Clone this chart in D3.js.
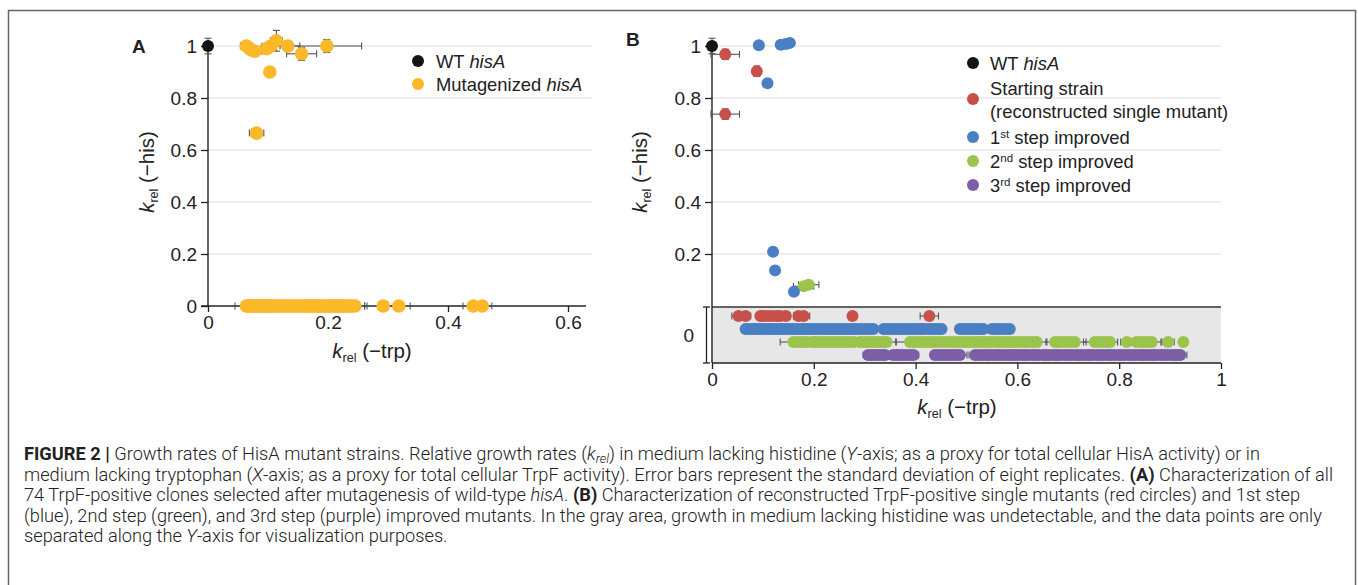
<!DOCTYPE html>
<html>
<head>
<meta charset="utf-8">
<script src="https://cdn.jsdelivr.net/npm/d3@7"></script>
<style>
  body { margin: 0; background: #fff; }
  svg text { font-family: "Liberation Sans", Arial, Helvetica, sans-serif; fill: #222; }
  svg text.cap { font-family: Roboto, "Liberation Sans", Arial, sans-serif; font-weight: 300; }
</style>
</head>
<body>
<div id="chart"></div>
<script>
// ---- data ----
// Panel A: points with detectable growth without histidine [x, y, xErr, yErr]
var aWT = [[0, 1.0, 0.004, 0.03]];
var aMutTop = [
    [0.064, 1.0, 0.010, 0.012], [0.072, 0.985, 0.010, 0.015], [0.078, 0.98, 0.012, 0.02],
    [0.098, 0.99, 0.010, 0.015], [0.105, 1.0, 0.015, 0.02], [0.114, 1.02, 0.010, 0.04],
    [0.133, 1.0, 0.020, 0.02], [0.156, 0.97, 0.025, 0.025], [0.198, 1.0, 0.058, 0.025],
    [0.103, 0.90, 0.004, 0.015], [0.081, 0.665, 0.012, 0.01]
];
// Panel A: clones at k_rel(-his) = 0, [x, xErr]
var aMutZero = [
    [0.064, 0.019], [0.066, 0.008], [0.069, 0.008], [0.073, 0.007], [0.074, 0.008], [0.078, 0.009],
    [0.081, 0.008], [0.082, 0.007], [0.086, 0.008], [0.089, 0.009], [0.090, 0.008], [0.095, 0.007],
    [0.097, 0.008], [0.099, 0.009], [0.103, 0.008], [0.104, 0.010], [0.108, 0.008], [0.112, 0.009],
    [0.113, 0.008], [0.117, 0.010], [0.121, 0.009], [0.123, 0.008], [0.128, 0.010], [0.130, 0.009],
    [0.134, 0.008], [0.139, 0.010], [0.141, 0.009], [0.146, 0.010], [0.149, 0.008], [0.154, 0.010],
    [0.156, 0.009], [0.161, 0.010], [0.162, 0.008], [0.167, 0.010], [0.169, 0.009], [0.171, 0.010],
    [0.176, 0.009], [0.178, 0.010], [0.182, 0.008], [0.185, 0.010], [0.186, 0.009], [0.191, 0.010],
    [0.194, 0.009], [0.195, 0.010], [0.200, 0.008], [0.203, 0.010], [0.204, 0.009], [0.209, 0.010],
    [0.211, 0.009], [0.215, 0.010], [0.218, 0.009], [0.219, 0.010], [0.224, 0.009], [0.227, 0.010],
    [0.228, 0.009], [0.233, 0.012], [0.237, 0.024], [0.239, 0.022], [0.245, 0.020],
    [0.292, 0.008], [0.318, 0.019], [0.442, 0.017], [0.457, 0.016]
];

// Panel B: points above the gray area [x, y, xErr, yErr]
var bWT = [[0, 1.0, 0.004, 0.03]];
var bStart = [[0.026, 0.968, 0.028, 0.02], [0.088, 0.903, 0.006, 0.02], [0.026, 0.738, 0.028, 0.02]];
var bStep1 = [
    [0.092, 1.003, 0.005, 0.008], [0.135, 1.005, 0.006, 0.008], [0.145, 1.008, 0.006, 0.008],
    [0.153, 1.012, 0.006, 0.008], [0.109, 0.857, 0.005, 0.008], [0.120, 0.209, 0.005, 0.008],
    [0.124, 0.137, 0.005, 0.008], [0.161, 0.055, 0.005, 0.008]
];
var bStep2 = [[0.180, 0.076, 0.020, 0.006], [0.190, 0.082, 0.020, 0.006]];
var bStep3 = [];

// Panel B: gray area rows (no growth without histidine), x or [x, xErr]
var zStart = [[0.052, 0.013], [0.066, 0.010], 0.095, 0.102, 0.110, 0.118, 0.127, 0.134, [0.145, 0.009],
    [0.170, 0.010], [0.180, 0.012], 0.276, [0.427, 0.018]];
var zStep1 = [0.066, 0.071, 0.078, 0.083, 0.088, 0.095, 0.099, 0.106, 0.111, 0.117, 0.122, 0.128,
    0.135, 0.139, 0.146, 0.151, 0.157, 0.163, 0.168, 0.175, 0.180, 0.186, 0.191, 0.198, 0.204, 0.209,
    0.216, [0.221, 0.010], 0.227, 0.232, 0.238, 0.245, 0.250, 0.257, 0.262, 0.268, 0.275, 0.281, 0.286,
    0.293, 0.299, 0.305, 0.311, 0.317, 0.337, 0.343, 0.350, 0.355, 0.362, 0.368, 0.373, 0.380, 0.386,
    0.392, 0.399, 0.405, 0.411, [0.417, 0.009], 0.425, 0.431, 0.438, 0.444, 0.451,
    0.487, 0.493, 0.500, 0.507, 0.514, 0.520, 0.527, 0.533, 0.550, 0.557, 0.563, 0.570, 0.578, 0.585];
var zStep2 = [[0.160, 0.026], 0.168, 0.174, 0.181, 0.186, 0.196, 0.203, 0.209, 0.215, 0.222, 0.229,
    0.236, 0.242, 0.249, 0.256, 0.263, 0.270, [0.278, 0.012], 0.290, 0.297, 0.304, 0.311, 0.318, 0.325,
    0.331, 0.337, [0.343, 0.018], [0.389, 0.027], 0.396, 0.402, 0.410, 0.417, 0.424, 0.431, 0.438, 0.446,
    0.453, 0.461, 0.470, 0.478, 0.485, 0.492, 0.499, 0.506, 0.514, 0.521, 0.528, 0.535, 0.542, 0.549,
    0.557, 0.564, 0.571, 0.578, 0.586, 0.593, 0.600, 0.607, 0.615, 0.622, 0.630, [0.638, 0.020],
    [0.674, 0.018], 0.681, 0.689, 0.697, 0.705, [0.713, 0.022], [0.752, 0.022], 0.760, 0.767, 0.775,
    [0.782, 0.015], [0.815, 0.012], [0.834, 0.010], 0.842, 0.849, 0.857, [0.864, 0.018], [0.896, 0.012], 0.926];
var zStep3 = [[0.307, 0.010], 0.314, 0.321, 0.327, 0.334, 0.340, 0.356, 0.363, 0.369, 0.376, 0.383, 0.390,
    [0.396, 0.010], [0.438, 0.008], 0.445, 0.452, 0.459, 0.466, 0.473, 0.480, [0.487, 0.014],
    [0.517, 0.012], 0.524, 0.531, 0.539, 0.545, 0.552, 0.560, 0.566, 0.573, 0.581, 0.587, 0.594, 0.601,
    0.609, 0.615, 0.622, 0.630, 0.636, 0.643, 0.651, 0.657, 0.664, 0.672, 0.678, 0.685, 0.693, 0.699,
    0.706, 0.714, 0.720, 0.727, 0.735, 0.741, 0.748, 0.756, 0.762, 0.769, 0.777, 0.783, 0.790, 0.798,
    0.804, 0.811, 0.819, 0.825, 0.832, 0.840, 0.846, 0.853, 0.861, 0.867, 0.874, 0.882, 0.888, 0.895,
    0.903, 0.909, 0.915, [0.920, 0.013]];

var yTicks = [0.2, 0.4, 0.6, 0.8, 1];
var xTicksA = [0, 0.2, 0.4, 0.6];
var xTicksB = [0, 0.2, 0.4, 0.6, 0.8, 1];
var zeroRows = ["start", "step1", "step2", "step3"];

var colors = {
    wt: "#141414",
    mut: "#fbb929",
    start: "#c8504b",
    step1: "#4a7fc3",
    step2: "#9bc44d",
    step3: "#7c5ea6"
};

// ---- svg ----
var svgWidth = 1358;
var svgHeight = 585;
var tickFont = "19px";
var legFont = "18.4px";

var svg = d3.select("#chart")
    .append("svg")
    .attr("width", svgWidth)
    .attr("height", svgHeight);

svg.append("rect")
    .attr("width", svgWidth).attr("height", svgHeight).attr("fill", "#fff");

// figure frame
svg.append("rect")
    .attr("x", 8.5).attr("y", 10.5)
    .attr("width", 1347).attr("height", 620)
    .attr("fill", "none").attr("stroke", "#666").attr("stroke-width", 1.5);

// scales
var xA = d3.scaleLinear().domain([0, 0.6]).range([208, 568]);
var yA = d3.scaleLinear().domain([0, 1]).range([306, 46]);
var xB = d3.scaleLinear().domain([0, 1]).range([712, 1221]);
var yB = d3.scaleLinear().domain([0, 1]).range([306, 46]);
var yZero = d3.scalePoint().domain(zeroRows).range([316, 355]);

var errColor = "#555";

// error bars: horizontal + vertical with caps
function drawErr(g, x, y, xe, ye, xs, ys) {
    var cap = 3.5;
    if (xe > 0) {
        var x0 = xs(x - xe), x1 = xs(x + xe), cy = ys(y);
        g.append("line").attr("x1", x0).attr("x2", x1).attr("y1", cy).attr("y2", cy);
        g.append("line").attr("x1", x0).attr("x2", x0).attr("y1", cy - cap).attr("y2", cy + cap);
        g.append("line").attr("x1", x1).attr("x2", x1).attr("y1", cy - cap).attr("y2", cy + cap);
    }
    if (ye > 0) {
        var y0 = ys(y - ye), y1 = ys(y + ye), cx = xs(x);
        g.append("line").attr("x1", cx).attr("x2", cx).attr("y1", y0).attr("y2", y1);
        g.append("line").attr("x1", cx - cap).attr("x2", cx + cap).attr("y1", y0).attr("y2", y0);
        g.append("line").attr("x1", cx - cap).attr("x2", cx + cap).attr("y1", y1).attr("y2", y1);
    }
}

function gridlines(xs, ys, x2) {
    svg.append("g").selectAll("line")
        .data(yTicks).enter().append("line")
        .attr("x1", xs(0)).attr("x2", x2)
        .attr("y1", d => ys(d)).attr("y2", d => ys(d))
        .attr("stroke", "#dedede").attr("stroke-width", 1.2);
}

function styleAxis(g) {
    g.select(".domain").remove();
    g.selectAll(".tick line").attr("stroke", "#222").attr("stroke-width", 1.3);
    g.selectAll(".tick text").style("font-size", tickFont).attr("fill", "#222");
}

// k_rel label with subscript
function kLabel(text, suffix) {
    text.append("tspan").style("font-style", "italic").text("k");
    text.append("tspan").attr("dy", 4).style("font-size", "12.5px").text("rel");
    text.append("tspan").attr("dy", -4).text("\u00a0" + suffix);
}

// =============== Panel A ===============
gridlines(xA, yA, 592);

var axisYA = svg.append("g")
    .attr("transform", `translate(${xA(0)},0)`)
    .call(d3.axisLeft(yA).tickValues([0].concat(yTicks)).tickSize(7).tickPadding(4)
        .tickFormat(d3.format("~g")));
styleAxis(axisYA);

var axisXA = svg.append("g")
    .attr("transform", `translate(0,${yA(0)})`)
    .call(d3.axisBottom(xA).tickValues(xTicksA).tickSize(6).tickPadding(4).tickFormat(d3.format("~g")));
styleAxis(axisXA);

svg.append("line").attr("x1", xA(0)).attr("x2", xA(0)).attr("y1", 40).attr("y2", yA(0))
    .attr("stroke", "#222").attr("stroke-width", 1.4);
svg.append("line").attr("x1", 201).attr("x2", 586).attr("y1", yA(0)).attr("y2", yA(0))
    .attr("stroke", "#222").attr("stroke-width", 1.4);

var errA = svg.append("g").attr("stroke", errColor).attr("stroke-width", 1.1);
aMutZero.forEach(d => drawErr(errA, d[0], 0, d[1], 0, xA, yA));
aMutTop.forEach(d => drawErr(errA, d[0], d[1], d[2], d[3], xA, yA));
aWT.forEach(d => drawErr(errA, d[0], d[1], d[2], d[3], xA, yA));

svg.append("g").selectAll("circle")
    .data(aMutZero).enter().append("circle")
    .attr("cx", d => xA(d[0])).attr("cy", yA(0)).attr("r", 6.8)
    .attr("fill", colors.mut);
svg.append("g").selectAll("circle")
    .data(aMutTop).enter().append("circle")
    .attr("cx", d => xA(d[0])).attr("cy", d => yA(d[1])).attr("r", 6.8)
    .attr("fill", colors.mut);
svg.append("g").selectAll("circle")
    .data(aWT).enter().append("circle")
    .attr("cx", d => xA(d[0])).attr("cy", d => yA(d[1])).attr("r", 6)
    .attr("fill", colors.wt);

// labels A
svg.append("text").attr("x", 132).attr("y", 53)
    .style("font-size", "19px").style("font-weight", "bold").attr("fill", "#111").text("A");
kLabel(svg.append("text").attr("x", 372).attr("y", 358).attr("text-anchor", "middle")
    .style("font-size", "20.5px"), "(\u2212trp)");
kLabel(svg.append("text").attr("transform", "translate(154,172) rotate(-90)").attr("text-anchor", "middle")
    .style("font-size", "20.5px"), "(\u2212his)");

// legend A
var legA = [["wt", "WT ", "hisA"], ["mut", "Mutagenized ", "hisA"]];
legA.forEach((d, i) => {
    var y = 61 + i * 23;
    svg.append("circle").attr("cx", 418).attr("cy", y).attr("r", 6).attr("fill", colors[d[0]]);
    var t = svg.append("text").attr("x", 436).attr("y", y + 6.5).style("font-size", legFont);
    t.append("tspan").text(d[1]);
    t.append("tspan").style("font-style", "italic").text(d[2]);
});

// =============== Panel B ===============
gridlines(xB, yB, xB(1));

// gray area
svg.append("rect")
    .attr("x", xB(0)).attr("y", 307)
    .attr("width", xB(1) - xB(0)).attr("height", 363 - 307)
    .attr("fill", "#e7e7e7");
svg.append("line").attr("x1", xB(0)).attr("x2", xB(1)).attr("y1", 307).attr("y2", 307)
    .attr("stroke", "#333").attr("stroke-width", 1.4);

var axisYB = svg.append("g")
    .attr("transform", `translate(${xB(0)},0)`)
    .call(d3.axisLeft(yB).tickValues(yTicks).tickSize(7).tickPadding(4).tickFormat(d3.format("~g")));
styleAxis(axisYB);

var axisXB = svg.append("g")
    .attr("transform", `translate(0,363)`)
    .call(d3.axisBottom(xB).tickValues(xTicksB).tickSize(6).tickPadding(4).tickFormat(d3.format("~g")));
styleAxis(axisXB);

svg.append("line").attr("x1", xB(0)).attr("x2", xB(0)).attr("y1", 40).attr("y2", 363)
    .attr("stroke", "#222").attr("stroke-width", 1.4);
svg.append("line").attr("x1", xB(0)).attr("x2", xB(1)).attr("y1", 363).attr("y2", 363)
    .attr("stroke", "#222").attr("stroke-width", 1.4);

// bracket for zero area
var br = svg.append("g").attr("stroke", "#222").attr("stroke-width", 1.3);
br.append("line").attr("x1", 706.5).attr("x2", 706.5).attr("y1", 307).attr("y2", 363);
br.append("line").attr("x1", 703).attr("x2", 710).attr("y1", 307).attr("y2", 307);
br.append("line").attr("x1", 703).attr("x2", 710).attr("y1", 363).attr("y2", 363);
svg.append("text").attr("x", 694).attr("y", 342).attr("text-anchor", "end")
    .style("font-size", tickFont).text("0");

var errB = svg.append("g").attr("stroke", errColor).attr("stroke-width", 1.1);
var zeroData = { start: zStart, step1: zStep1, step2: zStep2, step3: zStep3 };
zeroRows.forEach(k => {
    zeroData[k].forEach(d => {
        var x = Array.isArray(d) ? d[0] : d;
        var e = Array.isArray(d) ? d[1] : 0.005;
        drawErr(errB, x, k, e, 0, xB, () => yZero(k));
    });
});
var upperB = [["step3", bStep3], ["step2", bStep2], ["step1", bStep1], ["start", bStart], ["wt", bWT]];
upperB.forEach(s => s[1].forEach(d => drawErr(errB, d[0], d[1], d[2], d[3], xB, yB)));

zeroRows.forEach(k => {
    svg.append("g").selectAll("circle")
        .data(zeroData[k]).enter().append("circle")
        .attr("cx", d => xB(Array.isArray(d) ? d[0] : d))
        .attr("cy", yZero(k)).attr("r", 6)
        .attr("fill", colors[k]);
});
upperB.forEach(s => {
    svg.append("g").selectAll("circle")
        .data(s[1]).enter().append("circle")
        .attr("cx", d => xB(d[0])).attr("cy", d => yB(d[1])).attr("r", 6)
        .attr("fill", colors[s[0]]);
});

// labels B
svg.append("text").attr("x", 626).attr("y", 46)
    .style("font-size", "19px").style("font-weight", "bold").attr("fill", "#111").text("B");
kLabel(svg.append("text").attr("x", 957).attr("y", 414).attr("text-anchor", "middle")
    .style("font-size", "20.5px"), "(\u2212trp)");
kLabel(svg.append("text").attr("transform", "translate(647,172) rotate(-90)").attr("text-anchor", "middle")
    .style("font-size", "20.5px"), "(\u2212his)");

// legend B
var lx = 973, tx = 990;
svg.append("circle").attr("cx", lx).attr("cy", 63).attr("r", 6).attr("fill", colors.wt);
var tw = svg.append("text").attr("x", tx).attr("y", 69.5).style("font-size", legFont);
tw.append("tspan").text("WT ");
tw.append("tspan").style("font-style", "italic").text("hisA");

svg.append("circle").attr("cx", lx).attr("cy", 99).attr("r", 6).attr("fill", colors.start);
svg.append("text").attr("x", tx).attr("y", 94.5).style("font-size", legFont).text("Starting strain");
svg.append("text").attr("x", tx).attr("y", 117.5).style("font-size", legFont).text("(reconstructed single mutant)");

var steps = [["step1", "1", "st", 137], ["step2", "2", "nd", 161], ["step3", "3", "rd", 185]];
steps.forEach(d => {
    svg.append("circle").attr("cx", lx).attr("cy", d[3]).attr("r", 6).attr("fill", colors[d[0]]);
    var t = svg.append("text").attr("x", tx).attr("y", d[3] + 6.5).style("font-size", legFont);
    t.append("tspan").text(d[1]);
    t.append("tspan").attr("dy", -6).style("font-size", "11.5px").text(d[2]);
    t.append("tspan").attr("dy", 6).text(" step improved");
});

// =============== Caption ===============
var capLines = [
    [["FIGURE 2 |", "b"], [" Growth rates of HisA mutant strains. Relative growth rates ("], ["k", "i"], ["rel", "is"],
     [") in medium lacking histidine ("], ["Y", "i"], ["-axis; as a proxy for total cellular HisA activity) or in"]],
    [["medium lacking tryptophan ("], ["X", "i"], ["-axis; as a proxy for total cellular TrpF activity). Error bars represent the standard deviation of eight replicates. "],
     ["(A)", "b"], [" Characterization of all"]],
    [["74 TrpF-positive clones selected after mutagenesis of wild-type "], ["hisA", "i"], [". "], ["(B)", "b"],
     [" Characterization of reconstructed TrpF-positive single mutants (red circles) and 1st step"]],
    [["(blue), 2nd step (green), and 3rd step (purple) improved mutants. In the gray area, growth in medium lacking histidine was undetectable, and the data points are only"]],
    [["separated along the "], ["Y", "i"], ["-axis for visualization purposes."]]
];

var capG = svg.append("g");
var capTexts = capLines.map((line, i) => {
    var t = capG.append("text").attr("class", "cap").attr("x", 24).attr("y", 460 + i * 20.6)
        .style("font-size", "15px").attr("fill", "#333");
    line.forEach(seg => {
        var s = t.append("tspan").text(seg[0]);
        var f = seg[1] || "";
        if (f.indexOf("b") >= 0) s.style("font-weight", "bold").attr("fill", "#222");
        if (f.indexOf("i") >= 0) s.style("font-style", "italic");
        if (f.indexOf("s") >= 0) {
            s.attr("dy", 3).style("font-size", "0.7em");
        }
    });
    // undo subscript shift
    t.selectAll("tspan").each(function (d, j, nodes) {
        if (j > 0 && nodes[j - 1].getAttribute("dy") === "3") d3.select(this).attr("dy", -3);
    });
    return t;
});
// fit caption width to the second (full) line
var natural = capTexts[1].node().getComputedTextLength();
var fs = 15 * 1310 / natural;
capTexts.forEach(t => t.style("font-size", fs + "px"));
</script>
</body>
</html>
